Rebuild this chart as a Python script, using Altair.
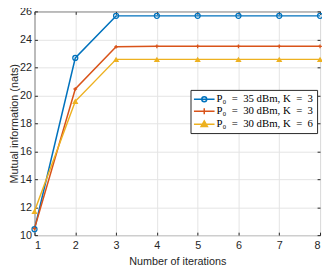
import altair as alt
import pandas as pd

iterations = [1, 2, 3, 4, 5, 6, 7, 8]
series_names = ["P₀\u2002=\u200235 dBm, K\u2002=\u20023",
                "P₀\u2002=\u200230 dBm, K\u2002=\u20023",
                "P₀\u2002=\u200230 dBm, K\u2002=\u20026"]
blue_vals = [10.42, 22.67, 25.68, 25.68, 25.68, 25.68, 25.68, 25.68]
orange_vals = [10.47, 20.45, 23.47, 23.5, 23.5, 23.5, 23.5, 23.5]
yellow_vals = [11.7, 19.57, 22.57, 22.57, 22.57, 22.57, 22.57, 22.57]
y_ticks = [10, 12, 14, 16, 18, 20, 22, 24, 26]

colors = ["#0072BD", "#D95319", "#EDB120"]

rows = []
for name, vals in zip(series_names, [blue_vals, orange_vals, yellow_vals]):
    for it, v in zip(iterations, vals):
        rows.append({"iter": it, "value": v, "series": name})
df = pd.DataFrame(rows)

xs = alt.Scale(domain=[1, 8], nice=False, zero=False)
ys = alt.Scale(domain=[10, 26], nice=False, zero=False)

x_axis = alt.Axis(values=iterations, title="Number of iterations", offset=-3, tickSize=3,
                  labelPadding=5, titlePadding=5, format="d")
y_axis = alt.Axis(values=y_ticks, title="Mutual information (nats)", offset=-3, tickSize=3,
                  labelPadding=3, titlePadding=0, format="d")

base = alt.Chart(df)


def line(name, color, axes):
    return base.transform_filter(alt.datum.series == name).mark_line(
        strokeWidth=1.5, color=color
    ).encode(
        x=alt.X("iter:Q", scale=xs, axis=x_axis if axes else None),
        y=alt.Y("value:Q", scale=ys, axis=y_axis if axes else None),
    )


def pts(name, shape, color, filled, size):
    return base.transform_filter(alt.datum.series == name).mark_point(
        shape=shape, color=color, filled=filled, size=size, strokeWidth=1.3, opacity=1
    ).encode(
        x=alt.X("iter:Q", scale=xs, axis=None),
        y=alt.Y("value:Q", scale=ys, axis=None),
    )


l1 = line(series_names[0], colors[0], True)
l2 = line(series_names[1], colors[1], False)
l3 = line(series_names[2], colors[2], False)
p1 = pts(series_names[0], "circle", colors[0], False, 26)
p2 = pts(series_names[1], "M-1,0L1,0M0,-1L0,1", colors[1], False, 14)
p3 = pts(series_names[2], "triangle-up", colors[2], True, 40)

leg_shapes = [
    "M-1.2,0L3,0M1.4,0A0.5,0.5 0 1,1 0.4,0A0.5,0.5 0 1,1 1.4,0",
    "M-1.2,0L3,0M0.3,0L1.5,0M0.9,-0.6L0.9,0.6",
    "M-1.2,0L3,0M0.9,-0.7L1.55,0.45L0.25,0.45Z",
]
leg_fill = ["transparent", colors[1], colors[2]]

legend_def = alt.Legend(
    title=None, orient="none", legendX=159, legendY=80,
    padding=3.5, strokeColor="#262626", fillColor="white", cornerRadius=0,
    labelFont="Liberation Serif", labelFontSize=11, labelColor="#000000",
    labelOffset=11, symbolSize=100, symbolStrokeWidth=1.5, rowPadding=0.3,
    symbolOpacity=1,
)

legend_layer = base.transform_filter(alt.datum.iter < 0).mark_point().encode(
    x=alt.X("iter:Q", scale=xs, axis=None),
    y=alt.Y("value:Q", scale=ys, axis=None),
    stroke=alt.Stroke("series:N", scale=alt.Scale(domain=series_names, range=colors), legend=legend_def),
    fill=alt.Fill("series:N", scale=alt.Scale(domain=series_names, range=leg_fill), legend=legend_def),
    shape=alt.Shape("series:N", scale=alt.Scale(domain=series_names, range=leg_shapes), legend=legend_def),
)

ticks_layer = base.mark_point(size=0).encode(
    x=alt.X("iter:Q", scale=xs, axis=alt.Axis(orient="top", values=iterations, labels=False, grid=False,
                                             domain=False, tickSize=3, offset=-3, title=None)),
    y=alt.Y("value:Q", scale=ys, axis=alt.Axis(orient="right", values=y_ticks, labels=False, grid=False,
                                              domain=False, tickSize=3, offset=-3, title=None)),
)

chart = alt.layer(l1, l2, l3, p1, p2, p3, legend_layer, ticks_layer).resolve_axis(
    x="independent", y="independent"
).properties(
    width=291, height=228,
    autosize=alt.AutoSizeParams(type="none"),
    padding={"left": 27, "top": 1, "right": 2, "bottom": 29},
).configure_axis(
    labelFont="Liberation Sans", labelFontSize=11, labelColor="#262626",
    titleFont="Liberation Sans", titleFontSize=11, titleFontWeight="normal", titleColor="#262626",
    gridColor="#e3e3e3", gridWidth=1, tickColor="#262626", domain=False,
).configure_view(
    stroke="#262626", strokeWidth=1,
)

chart.save("out.html", embed_options={"renderer": "svg", "actions": False})
